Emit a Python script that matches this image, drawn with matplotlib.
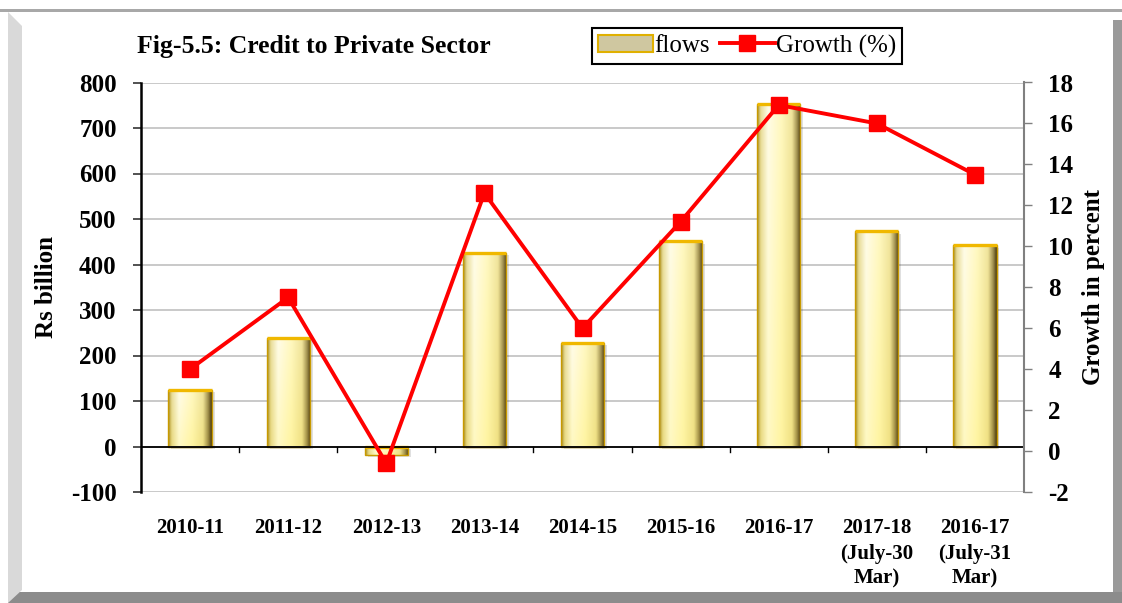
import numpy as np
import matplotlib
matplotlib.use("Agg")
import matplotlib.pyplot as plt
from matplotlib.patches import Rectangle, Patch, Polygon
from matplotlib.lines import Line2D
from matplotlib.colors import LinearSegmentedColormap

categories = ["2010-11", "2011-12", "2012-13", "2013-14", "2014-15", "2015-16",
              "2016-17", "2017-18\n(July-30\nMar)", "2016-17\n(July-31\nMar)"]
flows = [125, 239, -18, 426, 228, 452, 753, 474, 443]
growth = [4.0, 7.5, -0.6, 12.6, 6.0, 11.2, 16.9, 16.0, 13.5]
left_ticks = [-100, 0, 100, 200, 300, 400, 500, 600, 700, 800]
right_ticks = [-2, 0, 2, 4, 6, 8, 10, 12, 14, 16, 18]

serif = ["Liberation Serif", "DejaVu Serif"]
plt.rcParams["font.family"] = serif
plt.rcParams["axes.unicode_minus"] = False

fig = plt.figure(figsize=(11.22, 6.03), dpi=100)

# Frame decoration (figure coords)
W, H = 1122, 603
def fr(x0, y0, x1, y1, c, z=0):
    fig.patches.append(Rectangle((x0 / W, 1 - y1 / H), (x1 - x0) / W, (y1 - y0) / H,
                                 transform=fig.transFigure, facecolor=c, edgecolor="none", zorder=z))
fr(0, 9, W, 12, "#a8a8a8")
fig.patches.append(Polygon([(8 / W, 1 - 12 / H), (22 / W, 1 - 26 / H), (22 / W, 1 - 590 / H), (8 / W, 1 - 603 / H)],
                           closed=True, transform=fig.transFigure, facecolor="#d9d9d9", edgecolor="none"))
fr(1113, 20, W, 603, "#9a9a9a")
fr(8, 592, W, 603, "#8c8c8c")

ax = fig.add_axes([141 / W, 1 - 492 / H, (1024 - 141) / W, (492 - 82.5) / H])
ax.set_facecolor("none")
x = np.arange(len(categories))

ax.set_ylim(-100, 800)
ax.set_yticks(left_ticks)
ax.yaxis.grid(True, color="#c0c0c0", linewidth=1.2)
ax.set_axisbelow(True)

bars = ax.bar(x, flows, width=0.44, color="none", edgecolor="#c89a00", linewidth=1.0, zorder=3)

cmap = LinearSegmentedColormap.from_list(
    "gold", [(0.0, "#a88c20"), (0.08, "#e8dc98"), (0.25, "#fffce8"), (0.55, "#fff8c0"),
             (0.8, "#f0e49c"), (0.92, "#a09050"), (1.0, "#4a3a10")])
hx = cmap(np.linspace(0, 1, 96))[:, :3]
# vertical tint: lower part more saturated yellow
tint = np.array([1.0, 0.96, 0.55])
v = np.linspace(0, 1, 64)[:, None, None]  # 0 = bottom row (origin lower)
img = hx[None, :, :] * (1 - 0.35 * (1 - v)) + (hx[None, :, :] * tint) * (0.35 * (1 - v))
img = np.clip(img, 0, 1)
for b in bars:
    x0 = b.get_x(); w = b.get_width(); y0 = b.get_y(); h = b.get_height()
    # soft drop shadow
    ax.bar(x0 + w / 2 + 0.03, h, width=w, bottom=y0 - 6 if h >= 0 else y0 - 6,
           color="#000000", alpha=0.12, zorder=1.5, linewidth=0)
    im = ax.imshow(img, extent=[x0, x0 + w, min(y0, y0 + h), max(y0, y0 + h)], origin="lower",
                   aspect="auto", zorder=2, interpolation="bicubic")
    im.set_clip_path(b)
    ax.plot([x0, x0 + w], [y0 + h, y0 + h] if h >= 0 else [y0, y0], color="#f0b800", linewidth=2.4, zorder=4,
            solid_capstyle="butt")

ax.set_xlim(-0.5, len(categories) - 0.5)
ax.set_ylim(-100, 800)

ax.axhline(0, color="black", linewidth=1.3, zorder=5)
for b in np.arange(len(categories) - 1) + 0.5:
    ax.plot([b, b], [0, -12], color="black", linewidth=1.0, zorder=5)

for s in ["top", "bottom", "right"]:
    ax.spines[s].set_visible(False)
ax.spines["left"].set_color("black")
ax.spines["left"].set_linewidth(1.8)

ax.set_xticks(x)
ax.set_xticklabels(categories, fontsize=15, fontweight="bold", linespacing=1.35, va="top")
ax.tick_params(axis="x", length=0, pad=19)
ax.tick_params(axis="y", labelsize=18, length=6, width=1.2, color="#333333", direction="out", pad=11.5)
for t in ax.get_yticklabels():
    t.set_fontweight("bold")
ax.set_ylabel("Rs billion", fontsize=18, fontweight="bold", labelpad=9)

ax2 = ax.twinx()
ax2.set_ylim(-2, 18)
ax2.set_yticks(right_ticks)
ax2.plot(x, growth, color="#ff0000", linewidth=2.8, marker="s", markersize=11,
         markerfacecolor="#ff0000", markeredgecolor="#ff0000", zorder=6)
for s in ["top", "bottom", "left"]:
    ax2.spines[s].set_visible(False)
ax2.spines["right"].set_color("#808080")
ax2.spines["right"].set_linewidth(1.5)
ax2.tick_params(axis="y", labelsize=18, length=6, width=1.0, color="#808080", direction="out", pad=11.5)
for t in ax2.get_yticklabels():
    t.set_fontweight("bold")
ax2.set_ylabel("Growth in percent", fontsize=18, fontweight="bold", labelpad=6)

fig.text(137 / W, 1 - 46 / H, "Fig-5.5: Credit to Private Sector", fontsize=18.5, fontweight="bold",
         va="center", ha="left")

handles = [Patch(facecolor="#cfc7a0", edgecolor="#e0b000", linewidth=1.5),
           Line2D([0], [0], color="#ff0000", linewidth=2.8, marker="s", markersize=11)]
leg = fig.legend(handles, ["flows", "Growth (%)"], loc="center", ncol=2,
                 bbox_to_anchor=(747 / W, 1 - 46 / H), frameon=True, fancybox=False,
                 edgecolor="black", fontsize=18, handlelength=2.2, handletextpad=0.05,
                 columnspacing=0.4, borderpad=0.25, framealpha=1)
leg.get_frame().set_linewidth(1.5)

fig.savefig("out.png", dpi=100, facecolor="white")
